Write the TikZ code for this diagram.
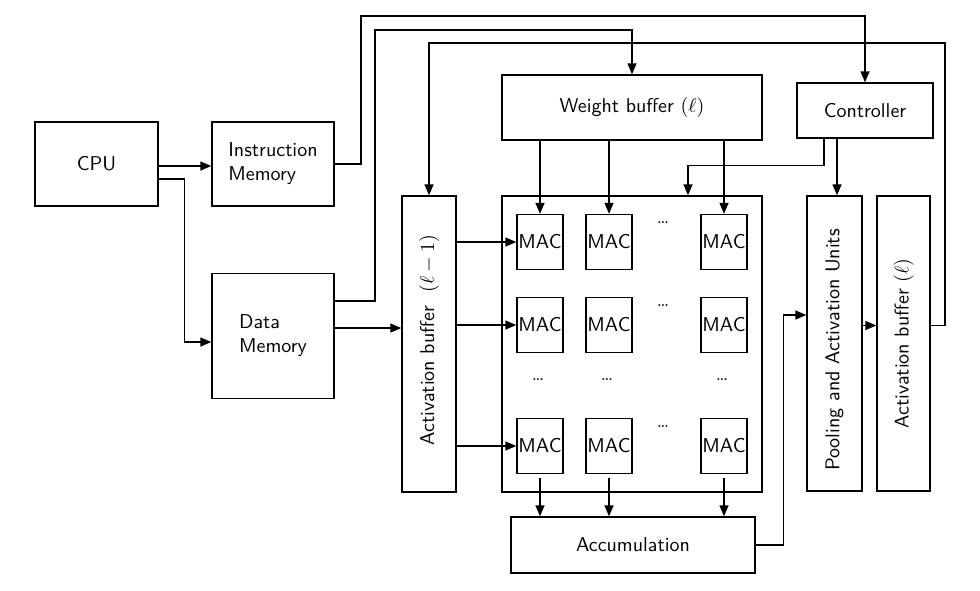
\documentclass[tikz,border=0pt]{standalone}
\usetikzlibrary{arrows.meta}

\tikzset{
  block/.style={draw, inner sep=0pt, font=\sffamily},
  mac/.style={block, minimum width=23pt, minimum height=27.5pt},
  punkte/.style={inner sep=0pt, font=\small}
}

\begin{document}
\begin{tikzpicture}[x=0.5pt, y=-0.5pt, line width=0.7pt]
  \useasboundingbox (0,0) rectangle (980,590);

  % CPU und Speicher
  \node[block, minimum width=61.5pt, minimum height=42pt] (cpu) at (96.5,164) {CPU};
  \node[block, minimum width=61pt, minimum height=42pt, align=left] (imem) at (273,164) {Instruction\\Memory};
  \node[block, minimum width=61pt, minimum height=62.5pt, align=left] (dmem) at (273,336) {Data\\Memory};

  % Puffer und Steuerung
  \node[block, minimum width=27pt, minimum height=148pt] (actin) at (429,344) {};
  \node[rotate=90, font=\sffamily] (actin-text) at (429,340) {Activation buffer~ $(\ell-1)$};
  \node[block, minimum width=130pt, minimum height=32.5pt] (weight) at (632,107.5) {Weight buffer $(\ell)$};
  \node[block, minimum width=68pt, minimum height=27.5pt] (ctrl) at (865,110.5) {Controller};

  % MAC-Feld
  \node[block, minimum width=130pt, minimum height=148pt] (array) at (632,344) {};
  \foreach \y [count=\i] in {242,325,446}
    \foreach \x [count=\j] in {540,609,724}
      \node[mac] (mac-\i-\j) at (\x,\y) {MAC};
  \node[punkte] (dots-1) at (663,223) {\dots};
  \node[punkte] (dots-2) at (663,306) {\dots};
  \node[punkte] (dots-3) at (538,380) {\dots};
  \node[punkte] (dots-4) at (607,380) {\dots};
  \node[punkte] (dots-5) at (722,380) {\dots};
  \node[punkte] (dots-6) at (663,427) {\dots};

  % Akkumulation und Ausgabe
  \node[block, minimum width=122pt, minimum height=28pt] (acc) at (633,545) {Accumulation};
  \node[block, minimum width=27.5pt, minimum height=147.5pt] (pool) at (834.5,343.5) {};
  \node[rotate=90, font=\sffamily] (pool-text) at (834.5,350) {Pooling and Activation Units};
  \node[block, minimum width=26.5pt, minimum height=147.5pt] (actout) at (903.5,343.5) {};
  \node[rotate=90, font=\sffamily] (actout-text) at (903.5,343.5) {Activation buffer $(\ell)$};

  % Verbindungen zeichnen
  \begin{scope}[>={Triangle[length=5.5pt,width=4.5pt]}]
    \draw[->] ([yshift=-1pt]cpu.east) -- ([yshift=-1pt]imem.west);
    \draw[->] ([yshift=-7.5pt]cpu.east) -- ++(13pt,0pt) |- ([yshift=-3pt]dmem.west);
    \draw[->] (imem.east) -| (361,16) -| (ctrl.north);
    \draw[->] ([yshift=17.5pt]dmem.east) -| (375,30) -| (weight.north);
    \coordinate (dm-out) at ([yshift=4pt]dmem.east);
    \draw[->] (dm-out) -- (dm-out -| actin.west);
    \draw[->] ([yshift=9pt]actout.east) -| (945,43) -| (actin.north);

    \foreach \j in {1,2,3}
      \draw[->] (weight.south -| mac-1-\j) -- (mac-1-\j.north);
    \foreach \i in {1,2,3}
      \draw[->] (actin.east |- mac-\i-1) -- (mac-\i-1.west);
    \foreach \j in {1,2,3}
      \draw[->] ([yshift=-2pt]mac-3-\j.south) -- (mac-3-\j.south |- acc.north);

    \coordinate (ctrl-a) at ([xshift=-20.5pt]ctrl.south);
    \coordinate (ctrl-b) at ([xshift=-14pt]ctrl.south);
    \draw[->] (ctrl-a) -- ++(0pt,-13.5pt) -| ([xshift=28pt]array.north);
    \draw[->] (ctrl-b) -- (ctrl-b |- pool.north);

    \draw[->] (acc.east) -- ++(14pt,0pt) |- ([yshift=14.25pt]pool.west);
    \draw[->] ([yshift=9pt]pool.east) -- ([yshift=9pt]actout.west);
  \end{scope}
\end{tikzpicture}
\end{document}
